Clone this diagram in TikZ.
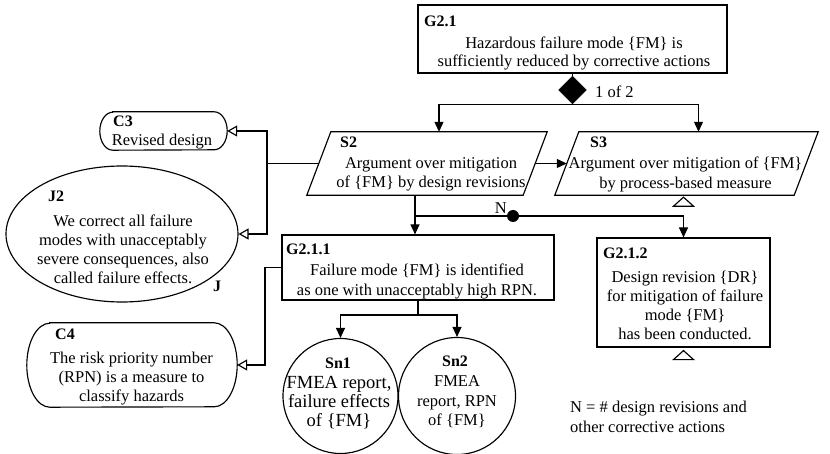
\documentclass[tikz,border=0pt]{standalone}
\usepackage{fontspec}
\setmainfont{Liberation Serif}
\usetikzlibrary{arrows.meta,shapes.geometric,calc}
\newcommand\paraoutline[2]{\draw[ln] ([xshift=#2]#1.north west) -- ([xshift=#2]#1.north east) -- ([xshift=-#2]#1.south east) -- ([xshift=-#2]#1.south west) -- cycle;}
\newcommand\ctxoutline[3]{\draw[ln] ([xshift=#2pt]#1.north west) -- ([xshift=-#2pt]#1.north east) arc[start angle=90,end angle=-90,x radius=#2pt,y radius=#3pt] -- ([xshift=#2pt]#1.south west) arc[start angle=270,end angle=90,x radius=#2pt,y radius=#3pt] -- cycle;}
\begin{document}
\begin{tikzpicture}[x=1pt,y=-1pt,
  every node/.style={font=\fontsize{16.5}{19.5}\selectfont, inner sep=0pt},
  ln/.style={line width=1.15pt},
  sup/.style={ln,-{Triangle[length=10pt,width=9pt]}},
  ctx/.style={ln,-{Triangle[open,fill=white,length=10pt,width=11pt]}},
  shp/.style={draw,ln,rectangle},
  area/.style={rectangle},
  body/.style={align=center,anchor=north},
  lab/.style={anchor=base west,font=\bfseries\fontsize{16}{19.5}\selectfont}]
\useasboundingbox (0,0) rectangle (830,454);

% helper coordinates
\coordinate (ny) at (0,216);
\coordinate (ys) at (0,315);
\coordinate (xl) at (267,0);
\coordinate (xc) at (265,0);

% G2.1
\node[shp, minimum width=309pt, minimum height=68pt] (G21) at (572.5,39) {};
\node[lab] (G21l) at (424,26.7) {G2.1};
\node[body, font=\fontsize{16.5}{18}\selectfont] (G21b) at (574,37) {Hazardous failure mode \{FM\} is\\sufficiently reduced by corrective actions};
\node[diamond, draw, fill=black, minimum width=28pt, minimum height=28pt] (dm) at (572.5,90) {};
\node[anchor=base west] (oneof) at (595,98) {1 of 2};
\draw[ln] (G21.south) -- (dm.north);

% S2, S3
\node[area, minimum width=216pt, minimum height=63pt] (S2) at (427,163.5) {};
\paraoutline{S2}{12pt}
\node[lab] (S2l) at (340,148) {S2};
\node[body] (S2b) at (431,157) {Argument over mitigation\\of \{FM\} by design revisions};
\node[area, minimum width=239pt, minimum height=63pt] (S3) at (686.5,163.5) {};
\paraoutline{S3}{12pt}
\node[lab] (S3l) at (590,148) {S3};
\node[body] (S3b) at (685.5,157) {Argument over mitigation of \{FM\}\\by process-based measure};
\coordinate (s2t) at ([xshift=12pt]S2.north);
\coordinate (s3t) at ([xshift=12pt]S3.north);
\coordinate (s2b) at ([xshift=-12pt]S2.south);
\draw[sup] (dm.south) -| (s2t);
\draw[sup] (dm.south) -| (s3t);
\draw[sup] (S2.east) -- (S3.west);
\draw[ln] ($(S3.south)+(-3,2)$) -- ++(10,9) -- ++(-20,0) -- cycle;

% G2.1.1, G2.1.2
\node[shp, minimum width=272pt, minimum height=65pt] (G211) at (418,267.5) {};
\node[lab] (G211l) at (286,255) {G2.1.1};
\node[body] (G211b) at (417,263.7) {Failure mode \{FM\} is identified\\as one with unacceptably high RPN.};
\node[shp, minimum width=173pt, minimum height=109pt] (G212) at (683.5,292.5) {};
\node[lab] (G212l) at (603,259) {G2.1.2};
\node[body, font=\fontsize{16.5}{19}\selectfont] (G212b) at (685,270.4) {Design revision \{DR\}\\for mitigation of failure\\mode \{FM\}\\has been conducted.};
\draw[ln] ($(G212.south)+(0,3)$) -- ++(10,9) -- ++(-20,0) -- cycle;
\coordinate (jn) at (s2b |- ny);
\draw[sup] (s2b) -- (s2b |- G211.north);
\draw[sup] (jn) -| (G212.north);
\node[circle, fill=black, minimum size=12pt] (nd) at (513,216) {};
\node[anchor=base east] (nl) at (507,214) {N};

% context C3, justification J2
\node[area, minimum width=127pt, minimum height=38pt] (C3) at (163.5,131) {};
\ctxoutline{C3}{13}{19}
\node[lab] (C3l) at (113,126.7) {C3};
\node[body] (C3b) at (162,133.7) {Revised design};
\node[ellipse, draw, ln, minimum width=232pt, minimum height=136pt] (J2) at (122,234) {};
\node[lab] (J2l) at (48,201.7) {J2};
\node[body, font=\fontsize{16.5}{19}\selectfont] (J2b) at (123,214.7) {We correct all failure\\modes with unacceptably\\severe consequences, also\\called failure effects.};
\node[lab, anchor=base] (Jm) at (217,291.7) {J};
\coordinate (jl) at (xl |- S2.west);
\draw[ln] (S2.west) -- (jl);
\draw[ctx] (jl) |- (C3.east);
\draw[ctx] (jl) |- (J2.east);

% context C4
\node[area, minimum width=210pt, minimum height=84pt] (C4) at (132,365) {};
\ctxoutline{C4}{23}{42}
\node[lab] (C4l) at (55,339) {C4};
\node[body, font=\fontsize{16.5}{19}\selectfont] (C4b) at (131.5,351.7) {The risk priority number\\(RPN) is a measure to\\classify hazards};
\coordinate (jc) at (xc |- G211.west);
\draw[ln] (G211.west) -- (jc);
\draw[ctx] (jc) |- (C4.east);

% solutions
\node[circle, draw, ln, minimum size=115pt] (Sn1) at (340.5,396) {};
\node[circle, draw, ln, minimum size=117pt] (Sn2) at (457,396) {};
\node[lab, anchor=base] (Sn1l) at (338,368.3) {Sn1};
\node[body, font=\fontsize{18.5}{19}\selectfont] (Sn1b) at (339,375.7) {FMEA report,\\failure effects\\of \{FM\}};
\node[lab, anchor=base] (Sn2l) at (455,366.7) {Sn2};
\node[body, font=\fontsize{16.5}{19.3}\selectfont] (Sn2b) at (457,375.8) {FMEA\\report, RPN\\of \{FM\}};
\coordinate (js) at (G211.south |- ys);
\draw[ln] (G211.south) -- (js);
\draw[sup] (js) -| (Sn1.north);
\draw[sup] (js) -| (Sn2.north);

% note
\node[anchor=north west, align=left, font=\fontsize{16.5}{20}\selectfont] (note) at (570,400.4) {N = \# design revisions and\\other corrective actions};
\end{tikzpicture}
\end{document}
